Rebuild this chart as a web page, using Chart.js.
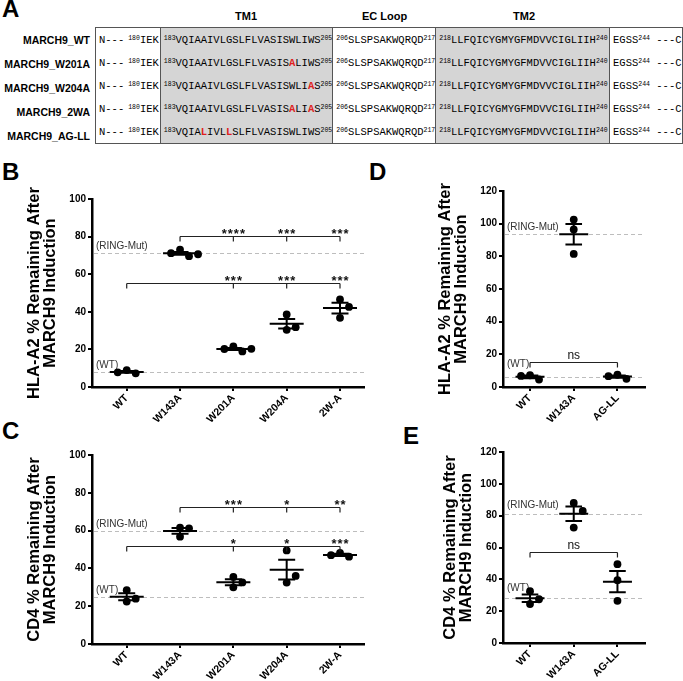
<!DOCTYPE html>
<html><head><meta charset="utf-8">
<script src="https://cdn.jsdelivr.net/npm/chart.js@4.4.0/dist/chart.umd.min.js"></script>
<style>
body{margin:0;width:683px;height:681px;position:relative;background:#fff;overflow:hidden;font-family:"Liberation Sans",Arial,sans-serif;color:#000;}
.plet{position:absolute;font-weight:bold;font-size:24px;line-height:24px;}
canvas{position:absolute;}
#seq{position:absolute;left:95px;top:27px;border-collapse:collapse;table-layout:fixed;border-top:1px solid #555;border-bottom:1px solid #555;}
#seq td{height:23px;padding:0 0 0 3px;border-left:1px solid #555;border-right:1px solid #555;font-family:"Liberation Mono","Courier New",monospace;font-size:10.5px;color:#000;white-space:nowrap;overflow:hidden;vertical-align:middle;}
#seq td.g{background:#d5d5d5;}
#seq sup{font-size:6.5px;vertical-align:3px;line-height:0;}
.red{color:#e02020;font-weight:bold;}
.rl{position:absolute;left:0;width:90px;text-align:right;font-weight:bold;font-size:10.5px;height:24px;line-height:24px;}
.hd{position:absolute;top:10px;font-weight:bold;font-size:11px;text-align:center;}
</style>
</head><body>
<div class="plet" style="left:2px;top:-3px">A</div>
<div class="plet" style="left:2px;top:160px">B</div>
<div class="plet" style="left:2px;top:419px">C</div>
<div class="plet" style="left:369px;top:160px">D</div>
<div class="plet" style="left:403px;top:424px">E</div>
<table id="seq"></table>
<script>
// ---------- Panel A data ----------
const rowLabels = ['MARCH9_WT','MARCH9_W201A','MARCH9_W204A','MARCH9_2WA','MARCH9_AG-LL'];
const domainHeaders = ['TM1','EC Loop','TM2'];
const nTermText = 'N---';
const nTermStart = 180, nTermSeq = 'IEK';
const tm1Start = 183, tm1End = 205;
const tm1Seqs = ['VQIAAIVLGSLFLVASISWLIWS','VQIAAIVLGSLFLVASISALIWS','VQIAAIVLGSLFLVASISWLIAS','VQIAAIVLGSLFLVASISALIAS','VQIALIVLLSLFLVASISWLIWS'];
const ecStart = 206, ecEnd = 217, ecSeq = 'SLSPSAKWQRQD';
const tm2Start = 218, tm2End = 240, tm2Seq = 'LLFQICYGMYGFMDVVCIGLIIH';
const cTermSeq = 'EGSS', cTermEnd = 244, cTermTail = '---C';

// ---------- Panel B: HLA-A2 ----------
const catsBC = ['WT','W143A','W201A','W204A','2W-A'];
const hlaB = [[9.0,7.3,7.8],[73.0,69.6,71.2,70.6],[21.6,18.9,20.2,20.3],[38.6,30.4,31.8],[46.6,42.6,36.8]];
const sigB_vsRing = ['****','***','***'];
const sigB_vsWT = ['***','***','***'];
// ---------- Panel C: CD4 ----------
const cd4C = [[28.5,22.5,24.0],[61.5,56.8,61.2],[35.5,30.0,32.6],[49.5,32.5,36.0],[48.2,46.2,47.0]];
const sigC_vsRing = ['***','*','**'];
const sigC_vsWT = ['*','*','***'];
// ---------- Panel D / E ----------
const catsDE = ['WT','W143A','AG-LL'];
const hlaD = [[7.2,4.6,6.8],[102.5,96.5,81.5],[7.5,5.0,6.6]];
const cd4E = [[32.5,24.5,27.5],[88.0,83.0,72.5],[49.5,39.5,26.5]];
const sigD = ['ns'];
const sigE = ['ns'];
const yTicksBC = [0,20,40,60,80,100];
const yTicksDE = [0,20,40,60,80,100,120];

// ---------- build table ----------
(function(){
  const t = document.getElementById('seq');
  const cg = document.createElement('colgroup');
  [65,172,103,174,73].forEach(w=>{const c=document.createElement('col');c.style.width=w+'px';cg.appendChild(c);});
  t.appendChild(cg);
  const wt = tm1Seqs[0];
  rowLabels.forEach((lab,r)=>{
    const tr = document.createElement('tr');
    const s = tm1Seqs[r];
    let tm1 = '';
    for(let i=0;i<s.length;i++){ tm1 += (s[i]!==wt[i]) ? '<span class="red">'+s[i]+'</span>' : s[i]; }
    const cells = [
      ['', nTermText+'<span style="margin-left:4px"></span><sup>'+nTermStart+'</sup>'+nTermSeq],
      ['g','<sup>'+tm1Start+'</sup>'+tm1+'<sup>'+tm1End+'</sup>'],
      ['','<sup>'+ecStart+'</sup>'+ecSeq+'<sup>'+ecEnd+'</sup>'],
      ['g','<sup>'+tm2Start+'</sup>'+tm2Seq+'<sup>'+tm2End+'</sup>'],
      ['',cTermSeq+'<sup>'+cTermEnd+'</sup> '+cTermTail]
    ];
    cells.forEach(([cls,html])=>{const td=document.createElement('td'); if(cls) td.className=cls; td.innerHTML=html; tr.appendChild(td);});
    t.appendChild(tr);
    const d = document.createElement('div'); d.className='rl'; d.style.top=(28+r*24)+'px'; d.textContent=lab; document.body.appendChild(d);
  });
  const hx = [[160,172],[333,103],[437,174]];
  domainHeaders.forEach((h,i)=>{const d=document.createElement('div');d.className='hd';d.style.left=hx[i][0]+'px';d.style.width=hx[i][1]+'px';d.textContent=h;document.body.appendChild(d);});
})();

// ---------- charts ----------
Chart.defaults.font.family = '"Liberation Sans", Arial, sans-serif';
Chart.defaults.color = '#000';
const mean = a => a.reduce((s,v)=>s+v,0)/a.length;
const sem = a => { const m=mean(a); return Math.sqrt(a.reduce((s,v)=>s+(v-m)*(v-m),0)/(a.length-1))/Math.sqrt(a.length); };

function panelPlugin(cfg){
  return {
    id:'panel'+cfg.id,
    beforeDatasetsDraw(chart){
      const {ctx, chartArea:a, scales:{y}} = chart;
      ctx.save();
      cfg.refs.forEach(r=>{
        const py = Math.round(y.getPixelForValue(r.value))+0.5;
        ctx.strokeStyle='#bdbdbd'; ctx.lineWidth=1; ctx.setLineDash([4,3]);
        ctx.beginPath(); ctx.moveTo(a.left+2, py); ctx.lineTo(a.right, py); ctx.stroke();
        ctx.setLineDash([]);
        ctx.fillStyle='#333'; ctx.font='10px "Liberation Sans", Arial'; ctx.textAlign='left'; ctx.textBaseline='alphabetic';
        ctx.fillText(r.label, a.left+4, py-(r.dy||5));
      });
      ctx.restore();
    },
    afterDatasetsDraw(chart){
      const {ctx, scales:{x,y}} = chart;
      ctx.save();
      ctx.strokeStyle='#000'; ctx.lineWidth=2;
      cfg.groups.forEach((vals,i)=>{
        const m=mean(vals), e=sem(vals);
        const px=x.getPixelForValue(i), pm=y.getPixelForValue(m), pt=y.getPixelForValue(m+e), pb=y.getPixelForValue(m-e);
        ctx.beginPath();
        ctx.moveTo(px-cfg.meanHalf,pm); ctx.lineTo(px+cfg.meanHalf,pm);
        ctx.moveTo(px,pt); ctx.lineTo(px,pb);
        ctx.moveTo(px-cfg.capHalf,pt); ctx.lineTo(px+cfg.capHalf,pt);
        ctx.moveTo(px-cfg.capHalf,pb); ctx.lineTo(px+cfg.capHalf,pb);
        ctx.stroke();
      });
      cfg.brackets.forEach(b=>{
        const py=Math.round(y.getPixelForValue(b.y))+0.5;
        ctx.strokeStyle='#222'; ctx.lineWidth=1.2;
        ctx.beginPath();
        ctx.moveTo(x.getPixelForValue(b.from),py); ctx.lineTo(x.getPixelForValue(b.to),py);
        b.ticks.forEach(t=>{const tx=x.getPixelForValue(t); ctx.moveTo(tx,py); ctx.lineTo(tx,py+5);});
        ctx.stroke();
        ctx.fillStyle='#111'; ctx.textAlign='center'; ctx.textBaseline='alphabetic';
        b.labels.forEach((lab,k)=>{
          const tx=x.getPixelForValue(b.labelAt[k]);
          if(lab==='ns'){ ctx.font='12px "Liberation Sans", Arial'; ctx.letterSpacing='0px'; ctx.fillText(lab,tx,py-4); }
          else { ctx.font='bold 13px "Liberation Sans", Arial'; ctx.letterSpacing='1px'; ctx.fillText(lab,tx+0.5,py+1); }
        });
        ctx.letterSpacing='0px';
      });
      ctx.restore();
    }
  };
}

function buildPanel(cfg){
  const cv=document.createElement('canvas');
  cv.width=cfg.w; cv.height=cfg.h; cv.style.left=cfg.left+'px'; cv.style.top=cfg.top+'px';
  document.body.appendChild(cv);
  const plotW=cfg.w-cfg.yW-cfg.padR, plotH=cfg.h-cfg.padT-cfg.xH;
  const pxX=plotW/(cfg.xMax-cfg.xMin), pxY=plotH/cfg.yMax;
  const SPREAD=9, MIN_D=8.6;
  const pts=[];
  cfg.groups.forEach((vals,gi)=>{
    const placed=[];
    vals.forEach(v=>{
      for(const k of [0,1,-1,2,-2,3,-3]){
        const dx=k*SPREAD;
        if(placed.every(p=>Math.hypot(p.dx-dx,(p.v-v)*pxY)>=MIN_D)){placed.push({dx,v}); pts.push({x:gi+dx/pxX,y:v}); break;}
      }
    });
  });
  const tickFont={size:10.5,weight:'bold'};
  new Chart(cv,{
    type:'scatter',
    data:{datasets:[{data:pts,pointRadius:3.9,pointHoverRadius:3.9,pointBackgroundColor:'#000',pointBorderWidth:0,showLine:false}]},
    options:{
      responsive:false, animation:false, devicePixelRatio:1,
      layout:{padding:{left:0,top:cfg.padT,right:cfg.padR,bottom:0}},
      plugins:{legend:{display:false},tooltip:{enabled:false}},
      scales:{
        x:{type:'linear',min:cfg.xMin,max:cfg.xMax,
          afterBuildTicks:s=>{s.ticks=cfg.cats.map((c,i)=>({value:i}));},
          afterFit:s=>{s.height=cfg.xH;},
          ticks:{callback:(v)=>cfg.cats[v],autoSkip:false,minRotation:45,maxRotation:45,padding:1,color:'#000',font:tickFont},
          grid:{drawOnChartArea:false,drawTicks:true,tickLength:4,color:'#000',lineWidth:2},
          border:{display:true,color:'#000',width:2.5}},
        y:{type:'linear',min:0,max:cfg.yMax,
          afterBuildTicks:s=>{s.ticks=cfg.yTicks.map(v=>({value:v}));},
          afterFit:s=>{s.width=cfg.yW;},
          ticks:{padding:2,color:'#000',font:{size:10,weight:'bold'}},
          grid:{drawOnChartArea:false,drawTicks:true,tickLength:4,color:'#000',lineWidth:2},
          border:{display:true,color:'#000',width:2.5},
          title:{display:true,text:cfg.title,color:'#000',font:{size:16.5,weight:'bold',lineHeight:1.0},padding:{top:cfg.titlePad,bottom:0}}}
      }
    },
    plugins:[panelPlugin(cfg)]
  });
}

const titleHLA=['HLA-A2 % Remaining After','MARCH9 Induction'];
const titleCD4=['CD4 % Remaining After','MARCH9 Induction'];

buildPanel({id:'B',left:0,top:180,w:372,h:258,yW:92,padT:19,padR:8,xH:51,xMin:-0.651,xMax:4.45,yMax:100,yTicks:yTicksBC,
  cats:catsBC,groups:hlaB,title:titleHLA,titlePad:26,meanHalf:17,capHalf:8.5,
  refs:[{value:mean(hlaB[1]),label:'(RING-Mut)'},{value:mean(hlaB[0]),label:'(WT)'}],
  brackets:[{from:1,to:4,y:80.3,ticks:[1,2,3,4],labels:sigB_vsRing,labelAt:[2,3,4]},
            {from:0,to:4,y:55.2,ticks:[0,2,3,4],labels:sigB_vsWT,labelAt:[2,3,4]}]});

buildPanel({id:'C',left:0,top:436,w:372,h:245,yW:92,padT:19,padR:8,xH:37,xMin:-0.651,xMax:4.45,yMax:100,yTicks:yTicksBC,
  cats:catsBC,groups:cd4C,title:titleCD4,titlePad:26,meanHalf:17,capHalf:8.5,
  refs:[{value:mean(cd4C[1]),label:'(RING-Mut)'},{value:mean(cd4C[0]),label:'(WT)'}],
  brackets:[{from:1,to:4,y:72.3,ticks:[1,2,3,4],labels:sigC_vsRing,labelAt:[2,3,4]},
            {from:0,to:4,y:51.9,ticks:[0,2,3,4],labels:sigC_vsWT,labelAt:[2,3,4]}]});

buildPanel({id:'D',left:411,top:172,w:272,h:258,yW:92,padT:19,padR:38,xH:43,xMin:-0.618,xMax:2.63,yMax:120,yTicks:yTicksDE,
  cats:catsDE,groups:hlaD,title:titleHLA,titlePad:26,meanHalf:14.5,capHalf:8.3,
  refs:[{value:mean(hlaD[1]),label:'(RING-Mut)'},{value:mean(hlaD[0]),label:'(WT)',dy:11}],
  brackets:[{from:0,to:2,y:15.3,ticks:[0,2],labels:sigD,labelAt:[1]}]});

buildPanel({id:'E',left:411,top:433,w:272,h:248,yW:92,padT:19,padR:38,xH:38,xMin:-0.618,xMax:2.63,yMax:120,yTicks:yTicksDE,
  cats:catsDE,groups:cd4E,title:titleCD4,titlePad:31,meanHalf:14.5,capHalf:8.3,
  refs:[{value:mean(cd4E[1]),label:'(RING-Mut)',dy:7},{value:mean(cd4E[0]),label:'(WT)',dy:8}],
  brackets:[{from:0,to:2,y:57,ticks:[0,2],labels:sigE,labelAt:[1]}]});
</script>
</body></html>
